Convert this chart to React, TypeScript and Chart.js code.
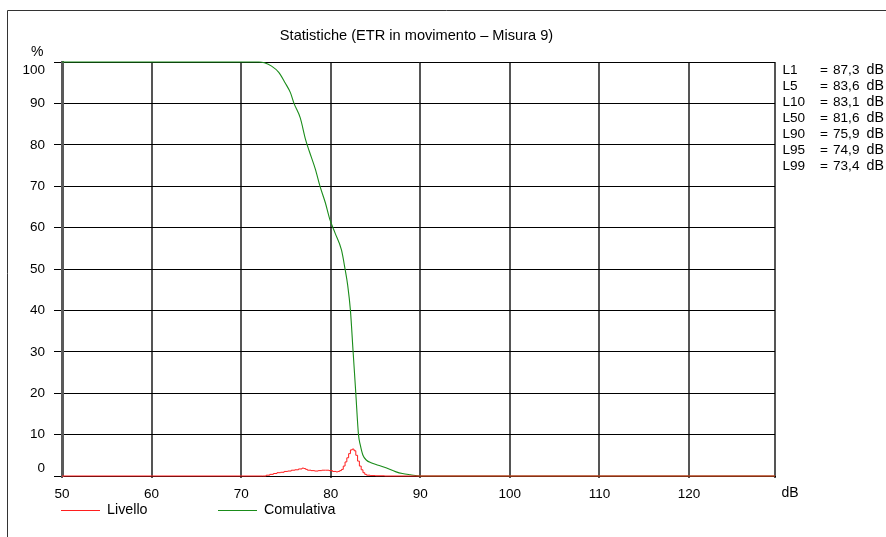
import { useEffect, useRef } from "react";
import { Chart, registerables } from "chart.js";

Chart.register(...registerables);

const chartTitle = "Statistiche (ETR in movimento – Misura 9)";
const yUnit = "%";
const xUnit = "dB";

// Level distribution (per 0.2 dB class), percent
const levelDb = [
  50, 72.4, 72.8, 73.2, 73.6, 74.0, 74.4, 74.8, 75.2, 75.6, 76.0, 76.4, 76.8, 77.0,
  77.2, 77.4, 77.8, 78.2, 78.6, 79.0, 79.4, 79.8, 80.2, 80.6, 80.8, 81.0, 81.2, 81.4,
  81.6, 81.8, 82.0, 82.2, 82.4, 82.6, 82.8, 83.0, 83.2, 83.4, 83.6, 83.8, 84.0, 84.4,
  85.0, 86.0, 129.6,
];
const levelPct = [
  0, 0, 0.2, 0.4, 0.6, 0.8, 0.9, 1.1, 1.2, 1.4, 1.5, 1.7, 1.9, 1.8,
  1.6, 1.4, 1.3, 1.2, 1.3, 1.4, 1.4, 1.3, 1.1, 1.0, 1.1, 1.3, 1.6, 2.4,
  3.4, 4.4, 5.4, 6.3, 6.5, 6.1, 5.0, 3.6, 2.4, 1.5, 0.8, 0.4, 0.2, 0.1,
  0.05, 0, 0,
];

// Cumulative curve (percent of time above level)
const cumDb = [
  50, 72.0, 72.6, 73.4, 74.2, 74.9, 75.5, 75.9, 76.6, 77.2, 77.6, 78.3, 78.8, 79.4,
  79.9, 80.5, 81.2, 81.6, 81.9, 82.2, 82.5, 82.8, 83.1, 83.3, 83.6, 84.0, 84.5, 85.3,
  86.0, 87.3, 88.0, 88.9, 90.0, 129.6,
];
const cumPct = [
  100, 100, 99.8, 99, 97.5, 95, 92.6, 90, 86.5, 81.2, 78.5, 74, 70, 66,
  62, 58.6, 54.6, 50, 46, 40, 30, 20, 10, 7.5, 5, 3.8, 3.2, 2.6,
  2.1, 1, 0.6, 0.3, 0, 0,
];

const seriesNames = ["Livello", "Comulativa"];
const seriesColors = ["#ff1e1e", "#1a8c1a"];

const statNames = ["L1", "L5", "L10", "L50", "L90", "L95", "L99"];
const statValues = ["87,3", "83,6", "83,1", "81,6", "75,9", "74,9", "73,4"];

const xMin = 50;
const xMax = 129.6;
const yMin = 0;
const yMax = 100;
const step = 10;

const FONT = "'Liberation Sans', Arial, Helvetica, sans-serif";

const overlay = {
  id: "overlay",
  afterDraw(chart: any) {
    const { ctx, chartArea: a } = chart;
    ctx.save();
    ctx.fillStyle = "#000";

    // outer frame (top and left edges)
    ctx.strokeStyle = "#333";
    ctx.lineWidth = 1;
    ctx.beginPath();
    ctx.moveTo(7.5, chart.height);
    ctx.lineTo(7.5, 10.5);
    ctx.lineTo(chart.width, 10.5);
    ctx.stroke();

    // title
    ctx.font = `14.6px ${FONT}`;
    ctx.textAlign = "center";
    ctx.textBaseline = "middle";
    ctx.fillText(chartTitle, (a.left + a.right) / 2 - 2, 35.5);

    // axis units
    ctx.font = `14px ${FONT}`;
    ctx.textAlign = "right";
    ctx.fillText(yUnit, a.left - 18.5, a.top - 10);
    ctx.textAlign = "center";
    ctx.fillText(xUnit, a.right + 15, a.bottom + 17.5);

    // percentile levels
    ctx.textAlign = "left";
    statNames.forEach((name, i) => {
      const y = a.top + 8.5 + i * 15.9;
      ctx.font = `13.6px ${FONT}`;
      ctx.fillText(name, a.right + 7.5, y);
      ctx.fillText("=", a.right + 45, y);
      ctx.fillText(statValues[i], a.right + 58, y);
      ctx.font = `14.2px ${FONT}`;
      ctx.fillText("dB", a.right + 91.5, y);
    });

    // legend
    ctx.font = `14.3px ${FONT}`;
    const ly = a.bottom + 34.5;
    const starts = [61, 218];
    chart.data.datasets.forEach((ds: any, i: number) => {
      const x0 = starts[i];
      ctx.strokeStyle = ds.borderColor;
      ctx.lineWidth = 1;
      ctx.beginPath();
      ctx.moveTo(x0, ly);
      ctx.lineTo(x0 + 39, ly);
      ctx.stroke();
      ctx.fillStyle = "#000";
      ctx.textAlign = "left";
      ctx.fillText(ds.label, x0 + 46, ly);
    });

    ctx.restore();
  },
};

export default function App() {
  const ref = useRef<HTMLCanvasElement | null>(null);

  useEffect(() => {
    if (!ref.current) return;
    Chart.defaults.font.family = FONT;
    Chart.defaults.font.size = 13.5;
    Chart.defaults.color = "#000";

    const chart = new Chart(ref.current, {
      type: "line",
      data: {
        datasets: [
          {
            label: seriesNames[0],
            data: levelDb.map((x, i) => ({ x, y: levelPct[i] })),
            borderColor: seriesColors[0],
            borderWidth: 1,
            pointRadius: 0,
            stepped: true,
            clip: false,
          },
          {
            label: seriesNames[1],
            data: cumDb.map((x, i) => ({ x, y: cumPct[i] })),
            borderColor: seriesColors[1],
            borderWidth: 1.1,
            pointRadius: 0,
            tension: 0.4,
            cubicInterpolationMode: "monotone",
            clip: false,
          },
        ],
      },
      options: {
        animation: false,
        responsive: false,
        devicePixelRatio: 1,
        layout: { padding: { left: 20, top: 62, right: 111, bottom: 31 } },
        plugins: {
          legend: { display: false },
          title: { display: false },
          tooltip: { enabled: false },
        },
        scales: {
          x: {
            type: "linear",
            min: xMin,
            max: xMax,
            grid: { color: "#555", lineWidth: 2, tickLength: 2 },
            border: { color: "#000", width: 1 },
            ticks: {
              stepSize: step,
              autoSkip: false,
              maxRotation: 0,
              padding: 8,
              color: "#000",
              callback: (v: any) => (Number(v) % step === 0 ? String(v) : ""),
            },
            afterFit(scale: any) {
              scale.height = 30;
            },
          },
          y: {
            min: yMin,
            max: yMax,
            grid: { color: "#000", lineWidth: 1, tickLength: 8 },
            border: { color: "#5a5a5a", width: 3 },
            ticks: {
              stepSize: step,
              padding: 9,
              color: "#000",
              callback: (v: any) =>
                v === yMax ? ["", String(v)] : v === yMin ? [String(v), ""] : String(v),
            },
            afterFit(scale: any) {
              scale.width = 42;
            },
          },
        },
      },
      plugins: [overlay],
    });
    return () => chart.destroy();
  }, []);

  return (
    <div style={{ position: "absolute", left: 0, top: 0, width: 886, height: 537, background: "#fff" }}>
      <canvas ref={ref} width={886} height={537} style={{ display: "block" }} />
    </div>
  );
}
